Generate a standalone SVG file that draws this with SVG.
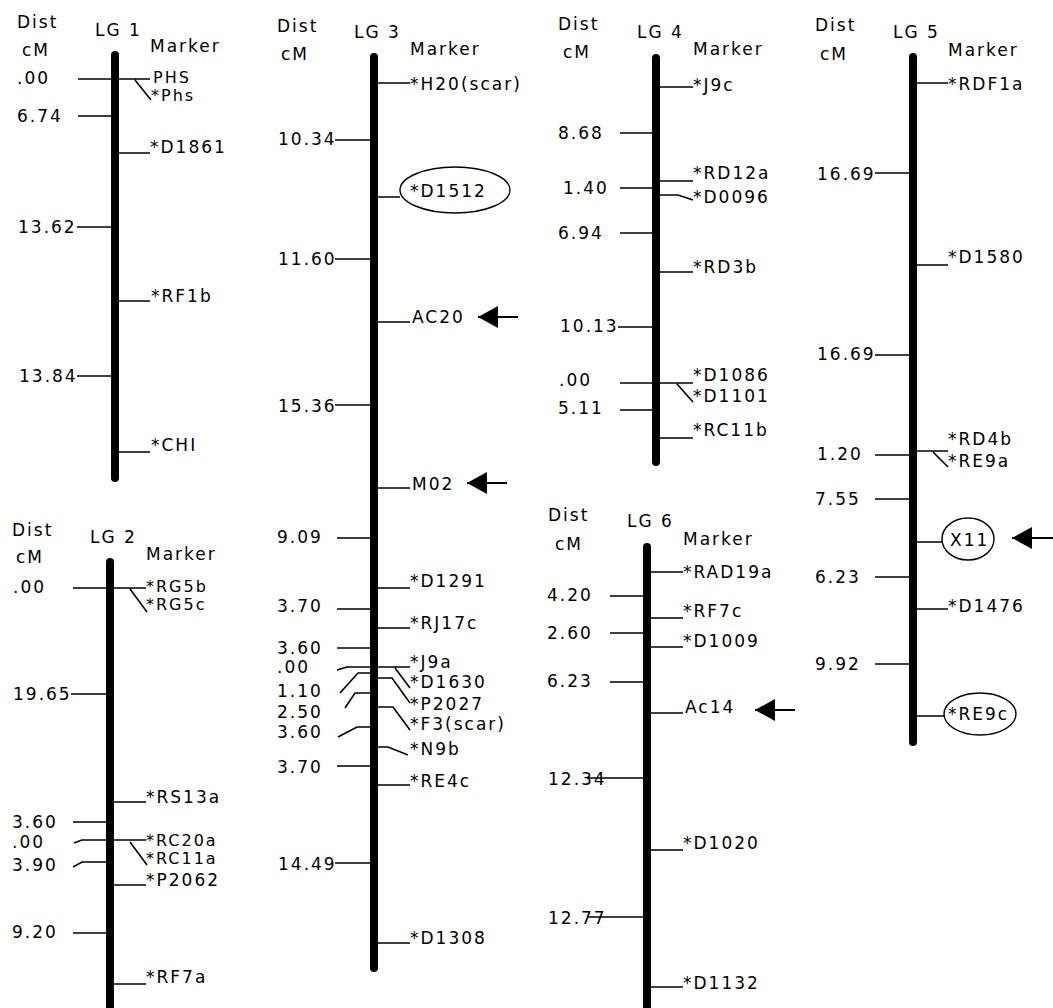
<svg xmlns="http://www.w3.org/2000/svg" width="1053" height="1008" viewBox="0 0 1053 1008">
<style>
.t{font-family:"DejaVu Sans",sans-serif;font-size:17px;letter-spacing:2px;fill:#000}
.s{font-size:16px}
.bar{stroke:#000;stroke-width:8;stroke-linecap:round}
.tk{stroke:#000;stroke-width:1.6;fill:none}
.el{fill:none;stroke:#000;stroke-width:1.4}
.ar{stroke:#000;stroke-width:1.8;marker-end:url(#arr)}
</style>
<defs>
<marker id="arr" viewBox="0 0 20 22" refX="20" refY="11" markerWidth="20" markerHeight="22" markerUnits="userSpaceOnUse" orient="auto">
<path d="M0,0 L20,11 L0,22 Z" fill="#000"/>
</marker>
</defs>
<rect width="1053" height="1008" fill="#fff"/>

<g id="LG1">
<line class="bar" x1="115" y1="55" x2="115" y2="478"/>
<path class="tk" d="M78,79 H150 M135,80 L151,100 M78,116 H115 M115,153 H150 M77,227 H115 M115,301 H150 M77,376 H115 M115,452 H150"/>
<text class="t" x="17" y="28">Dist</text>
<text class="t" x="22" y="56">cM</text>
<text class="t" x="95" y="36">LG 1</text>
<text class="t" x="150" y="52">Marker</text>
<text class="t" x="17" y="84">.00</text>
<text class="t s" x="153" y="83">PHS</text>
<text class="t s" x="151" y="101">*Phs</text>
<text class="t" x="17" y="122">6.74</text>
<text class="t" x="150" y="153">*D1861</text>
<text class="t" x="18" y="233">13.62</text>
<text class="t" x="151" y="302">*RF1b</text>
<text class="t" x="19" y="382">13.84</text>
<text class="t" x="151" y="451">*CHI</text>
</g>

<g id="LG2">
<line class="bar" x1="110" y1="562" x2="110" y2="1014"/>
<path class="tk" d="M73,588 H146 M130,589 L147,612 M71,694 H110 M110,802 H146 M73,822 H110 M74,843 L82,840 H146 M130,842 L147,865 M73,867 L82,862 H110 M110,885 H146 M73,933 H110 M110,984 H146"/>
<text class="t" x="12" y="536">Dist</text>
<text class="t" x="16" y="563">cM</text>
<text class="t" x="90" y="543">LG 2</text>
<text class="t" x="146" y="560">Marker</text>
<text class="t" x="13" y="593">.00</text>
<text class="t s" x="146" y="592">*RG5b</text>
<text class="t s" x="146" y="610">*RG5c</text>
<text class="t" x="13" y="700">19.65</text>
<text class="t" x="146" y="803">*RS13a</text>
<text class="t" x="12" y="828">3.60</text>
<text class="t" x="12" y="848">.00</text>
<text class="t s" x="146" y="846">*RC20a</text>
<text class="t s" x="146" y="864">*RC11a</text>
<text class="t" x="12" y="871">3.90</text>
<text class="t" x="146" y="886">*P2062</text>
<text class="t" x="12" y="938">9.20</text>
<text class="t" x="146" y="983">*RF7a</text>
</g>

<g id="LG3">
<line class="bar" x1="374" y1="57" x2="374" y2="968"/>
<path class="tk" d="M374,83 H410 M335,140 H374 M374,197 H400 M335,259 H374 M374,322 H410 M335,405 H374 M374,488 H410 M337,538 H374 M374,588 H410 M337,609 H374 M374,628 H410 M337,648 H374 M337,670 L347,667 H410 M395,668 L410,688 M340,693 L358,673 H374 M374,678 H392 L410,703 M345,708 L355,693 H374 M374,707 H393 L410,730 M338,737 L357,727 H374 M374,747 H388 L408,755 M337,766 H374 M374,785 H410 M335,863 H374 M374,943 H410"/>
<ellipse class="el" cx="455" cy="190" rx="55" ry="23"/>
<text class="t" x="277" y="32">Dist</text>
<text class="t" x="281" y="60">cM</text>
<text class="t" x="354" y="38">LG 3</text>
<text class="t" x="410" y="55">Marker</text>
<text class="t" x="410" y="90">*H20(scar)</text>
<text class="t" x="278" y="145">10.34</text>
<text class="t" x="410" y="197">*D1512</text>
<text class="t" x="278" y="265">11.60</text>
<text class="t" x="412" y="323">AC20</text>
<text class="t" x="278" y="412">15.36</text>
<text class="t" x="412" y="490">M02</text>
<text class="t" x="277" y="543">9.09</text>
<text class="t" x="410" y="587">*D1291</text>
<text class="t" x="277" y="612">3.70</text>
<text class="t" x="410" y="629">*RJ17c</text>
<text class="t" x="277" y="654">3.60</text>
<text class="t" x="277" y="673">.00</text>
<text class="t" x="410" y="668">*J9a</text>
<text class="t" x="410" y="688">*D1630</text>
<text class="t" x="277" y="697">1.10</text>
<text class="t" x="410" y="710">*P2027</text>
<text class="t" x="277" y="718">2.50</text>
<text class="t" x="410" y="730">*F3(scar)</text>
<text class="t" x="277" y="738">3.60</text>
<text class="t" x="410" y="755">*N9b</text>
<text class="t" x="277" y="773">3.70</text>
<text class="t" x="410" y="787">*RE4c</text>
<text class="t" x="278" y="870">14.49</text>
<text class="t" x="410" y="944">*D1308</text>
</g>

<g id="LG4">
<line class="bar" x1="656" y1="58" x2="656" y2="462"/>
<path class="tk" d="M656,87 H693 M620,133 H656 M656,181 H693 M620,188 H656 M656,195 H678 L693,200 M620,233 H656 M656,272 H693 M618,327 H656 M620,383 H693 M677,384 L693,402 M620,410 H656 M656,438 H693"/>
<text class="t" x="558" y="30">Dist</text>
<text class="t" x="563" y="58">cM</text>
<text class="t" x="637" y="38">LG 4</text>
<text class="t" x="693" y="55">Marker</text>
<text class="t" x="693" y="91">*J9c</text>
<text class="t" x="558" y="139">8.68</text>
<text class="t" x="693" y="179">*RD12a</text>
<text class="t" x="563" y="194">1.40</text>
<text class="t" x="693" y="203">*D0096</text>
<text class="t" x="558" y="239">6.94</text>
<text class="t" x="693" y="273">*RD3b</text>
<text class="t" x="560" y="332">10.13</text>
<text class="t" x="559" y="386">.00</text>
<text class="t" x="693" y="381">*D1086</text>
<text class="t" x="693" y="402">*D1101</text>
<text class="t" x="558" y="414">5.11</text>
<text class="t" x="693" y="436">*RC11b</text>
</g>

<g id="LG5">
<line class="bar" x1="913" y1="57" x2="913" y2="742"/>
<path class="tk" d="M913,83 H948 M875,173 H913 M913,265 H948 M875,355 H913 M913,451 H948 M933,452 L948,467 M875,455 H913 M875,499 H913 M913,542 H943 M875,577 H913 M913,609 H948 M875,664 H913 M913,716 H945"/>
<ellipse class="el" cx="968" cy="539" rx="26" ry="21"/>
<ellipse class="el" cx="980" cy="714" rx="36" ry="21"/>
<text class="t" x="815" y="31">Dist</text>
<text class="t" x="820" y="60">cM</text>
<text class="t" x="893" y="38">LG 5</text>
<text class="t" x="948" y="56">Marker</text>
<text class="t" x="948" y="90">*RDF1a</text>
<text class="t" x="817" y="180">16.69</text>
<text class="t" x="948" y="263">*D1580</text>
<text class="t" x="817" y="360">16.69</text>
<text class="t" x="948" y="445">*RD4b</text>
<text class="t" x="817" y="460">1.20</text>
<text class="t" x="948" y="467">*RE9a</text>
<text class="t" x="815" y="505">7.55</text>
<text class="t" x="950" y="546">X11</text>
<text class="t" x="815" y="583">6.23</text>
<text class="t" x="948" y="612">*D1476</text>
<text class="t" x="815" y="670">9.92</text>
<text class="t" x="948" y="720">*RE9c</text>
</g>

<g id="LG6">
<line class="bar" x1="647" y1="547" x2="647" y2="1014"/>
<path class="tk" d="M651,572 H683 M610,596 H647 M647,618 H683 M610,633 H647 M647,647 H683 M610,682 H647 M647,713 H683 M587,778 H647 M647,850 H683 M587,917 H647 M647,987 H683"/>
<text class="t" x="548" y="521">Dist</text>
<text class="t" x="555" y="550">cM</text>
<text class="t" x="627" y="527">LG 6</text>
<text class="t" x="683" y="545">Marker</text>
<text class="t" x="683" y="578">*RAD19a</text>
<text class="t" x="547" y="601">4.20</text>
<text class="t" x="683" y="617">*RF7c</text>
<text class="t" x="547" y="639">2.60</text>
<text class="t" x="683" y="647">*D1009</text>
<text class="t" x="547" y="687">6.23</text>
<text class="t" x="685" y="713">Ac14</text>
<text class="t" x="548" y="785">12.34</text>
<text class="t" x="683" y="849">*D1020</text>
<text class="t" x="548" y="924">12.77</text>
<text class="t" x="683" y="989">*D1132</text>
</g>

<g id="connectors">
<line class="ar" x1="518" y1="317" x2="478" y2="317"/>
<line class="ar" x1="507" y1="483" x2="467" y2="483"/>
<line class="ar" x1="795" y1="710" x2="755" y2="710"/>
<line class="ar" x1="1053" y1="538" x2="1012" y2="538"/>
</g>
</svg>
